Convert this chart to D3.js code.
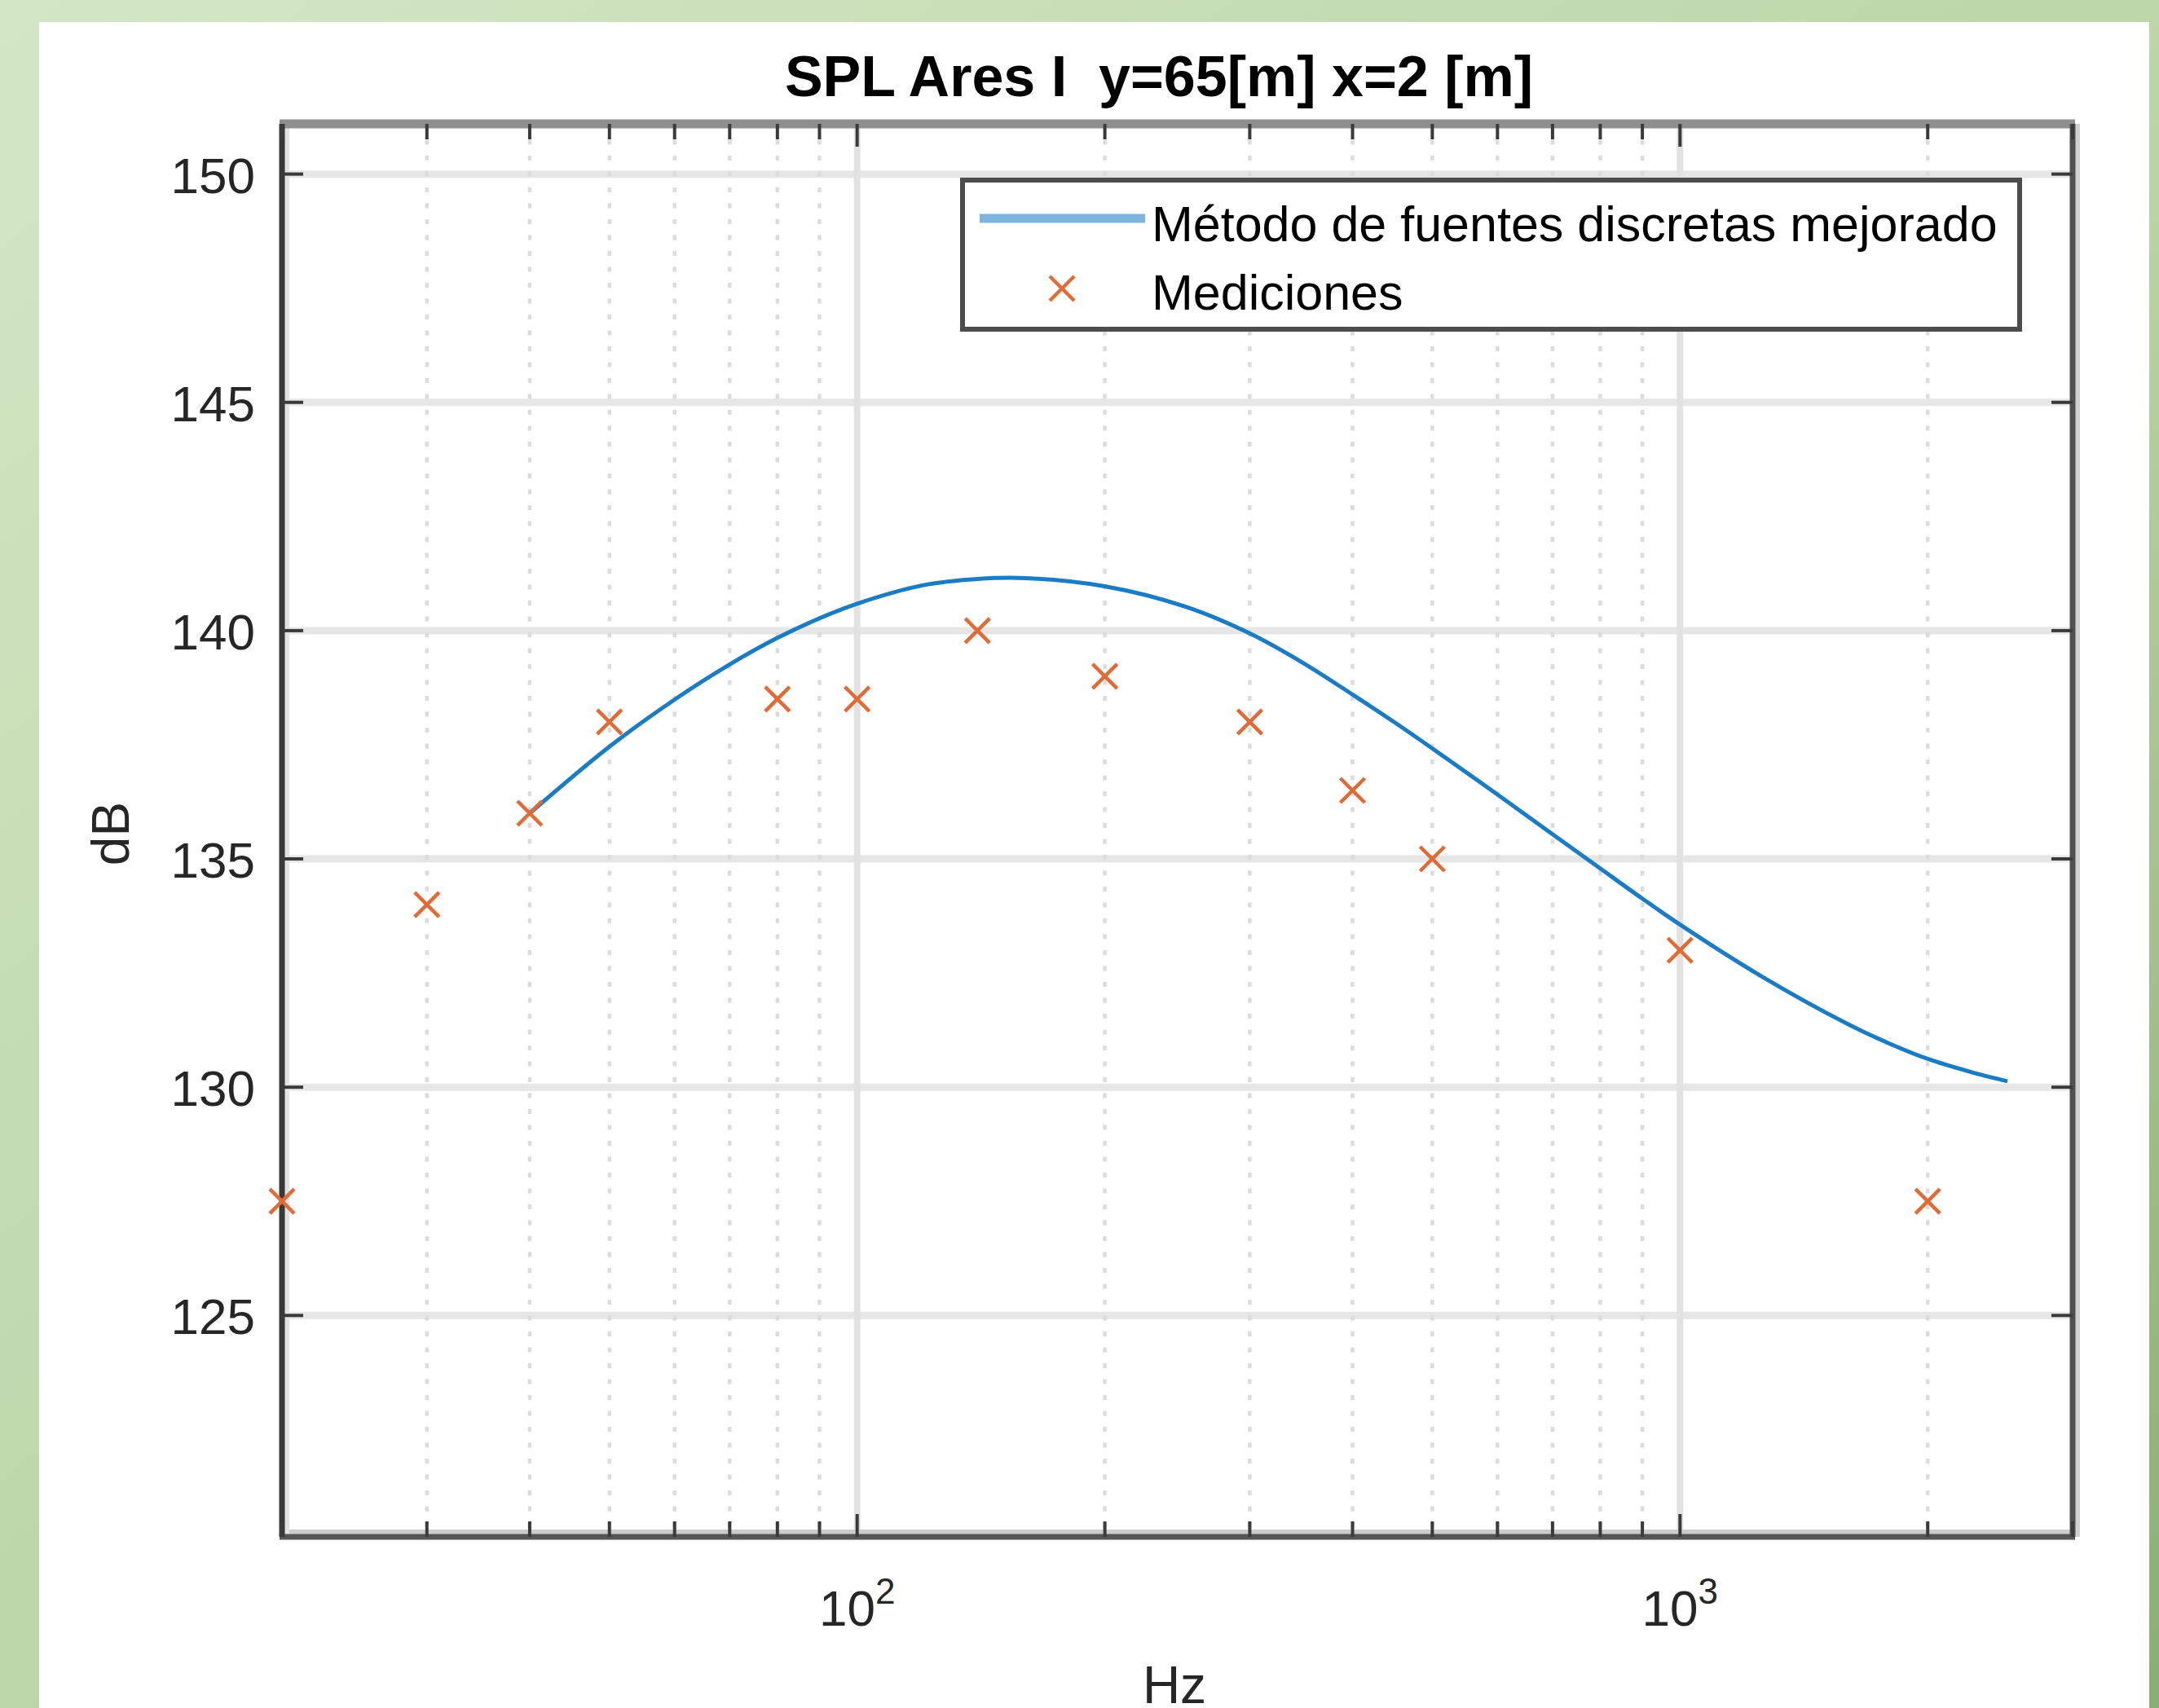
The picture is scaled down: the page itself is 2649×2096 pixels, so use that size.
<!DOCTYPE html>
<html>
<head>
<meta charset="utf-8">
<script src="https://cdn.jsdelivr.net/npm/d3@7"></script>
<style>
  html, body { margin: 0; padding: 0; background: #fff; }
  svg { display: block; }
  text { font-family: "Liberation Sans", Arial, Helvetica, sans-serif; white-space: pre; }
</style>
</head>
<body>
<script>
// ---- Data ----
const titleText = "SPL Ares I  y=65[m] x=2 [m]";
const xLabel = "Hz";
const yLabel = "dB";
const seriesNames = ["Método de fuentes discretas mejorado", "Mediciones"];

const freqModel = [40, 50, 60, 70, 80, 90, 100, 120, 140, 160, 200, 250, 300, 350, 400, 450, 500, 600, 700, 800, 900, 1000, 1250, 1600, 1800, 2000, 2250, 2500];
const splModel  = [136.0, 137.46, 138.49, 139.26, 139.84, 140.27, 140.59, 140.99, 141.13, 141.15, 140.97, 140.53, 139.94, 139.27, 138.6, 137.99, 137.42, 136.41, 135.54, 134.79, 134.13, 133.56, 132.45, 131.38, 130.95, 130.62, 130.34, 130.13];

const freqMeas = [20, 30, 40, 50, 80, 100, 140, 200, 300, 400, 500, 1000, 2000];
const splMeas  = [127.5, 134, 136, 138, 138.5, 138.5, 140, 139, 138, 136.5, 135, 133, 127.5];

const xDomain = [20, 3000];
const yDomain = [120.15, 151.1];
const xMajorTicks = [100, 1000];
const xMajorExp = ["2", "3"];
const xMinorTicks = [20, 30, 40, 50, 60, 70, 80, 90, 200, 300, 400, 500, 600, 700, 800, 900, 2000, 3000];
const xMinorGrid = [30, 40, 50, 60, 70, 80, 90, 200, 300, 400, 500, 600, 700, 800, 900, 2000];
const yTicks = [125, 130, 135, 140, 145, 150];

// ---- Layout ----
const W = 2649, H = 2096;
const plot = { left: 346, right: 2543, top: 152, bottom: 1886 };

const svg = d3.select("body").append("svg").attr("width", W).attr("height", H);

const defs = svg.append("defs");
const grad = defs.append("linearGradient").attr("id", "bg")
  .attr("x1", "0").attr("y1", "0").attr("x2", "1").attr("y2", "1");
grad.append("stop").attr("offset", "0").attr("stop-color", "#d3e7c6");
grad.append("stop").attr("offset", "0.55").attr("stop-color", "#b9d4a5");
grad.append("stop").attr("offset", "1").attr("stop-color", "#8aad76");

svg.append("rect").attr("width", W).attr("height", H).attr("fill", "url(#bg)");
svg.append("rect").attr("x", 48).attr("y", 27).attr("width", 2637 - 48).attr("height", H).attr("fill", "#ffffff");

const x = d3.scaleLog().domain(xDomain).range([plot.left, plot.right]);
const y = d3.scaleLinear().domain(yDomain).range([plot.bottom, plot.top]);

// ---- Grid ----
const grid = svg.append("g");
grid.selectAll(".ygrid").data(yTicks).join("line")
  .attr("x1", plot.left).attr("x2", plot.right)
  .attr("y1", d => y(d)).attr("y2", d => y(d))
  .attr("stroke", "#e6e6e6").attr("stroke-width", 9);
grid.selectAll(".xminor").data(xMinorGrid).join("line")
  .attr("x1", d => x(d)).attr("x2", d => x(d))
  .attr("y1", plot.top).attr("y2", plot.bottom)
  .attr("stroke", "#dcdcdc").attr("stroke-width", 4.5)
  .attr("stroke-dasharray", "6,13.5");
grid.selectAll(".xmajor").data(xMajorTicks).join("line")
  .attr("x1", d => x(d)).attr("x2", d => x(d))
  .attr("y1", plot.top).attr("y2", plot.bottom)
  .attr("stroke", "#e2e2e2").attr("stroke-width", 8);

// ---- Frame ----
const frame = svg.append("g");
frame.append("line").attr("x1", plot.left).attr("x2", plot.right + 6).attr("y1", plot.bottom - 6).attr("y2", plot.bottom - 6).attr("stroke", "#cccccc").attr("stroke-width", 6);
frame.append("line").attr("x1", plot.left + 6).attr("x2", plot.left + 6).attr("y1", plot.top).attr("y2", plot.bottom).attr("stroke", "#e2e2e2").attr("stroke-width", 6);
frame.append("line").attr("x1", plot.right + 6).attr("x2", plot.right + 6).attr("y1", plot.top).attr("y2", plot.bottom).attr("stroke", "#d0d0d0").attr("stroke-width", 6);
frame.append("line").attr("x1", plot.left - 3).attr("x2", plot.right + 3).attr("y1", plot.top).attr("y2", plot.top).attr("stroke", "#8e8e8e").attr("stroke-width", 11);
frame.append("line").attr("x1", plot.left - 3).attr("x2", plot.right + 3).attr("y1", plot.bottom).attr("y2", plot.bottom).attr("stroke", "#555555").attr("stroke-width", 7);
frame.append("line").attr("x1", plot.left).attr("x2", plot.left).attr("y1", plot.top).attr("y2", plot.bottom).attr("stroke", "#383838").attr("stroke-width", 7);
frame.append("line").attr("x1", plot.right).attr("x2", plot.right).attr("y1", plot.top).attr("y2", plot.bottom).attr("stroke", "#505050").attr("stroke-width", 7);

// ---- Ticks (inside, all four sides) ----
const ticks = svg.append("g").attr("stroke", "#3a3a3a").attr("stroke-width", 4);
yTicks.forEach(v => {
  ticks.append("line").attr("x1", plot.left).attr("x2", plot.left + 26).attr("y1", y(v)).attr("y2", y(v));
  ticks.append("line").attr("x1", plot.right).attr("x2", plot.right - 26).attr("y1", y(v)).attr("y2", y(v));
});
xMinorTicks.forEach(v => {
  ticks.append("line").attr("x1", x(v)).attr("x2", x(v)).attr("y1", plot.bottom).attr("y2", plot.bottom - 19);
  ticks.append("line").attr("x1", x(v)).attr("x2", x(v)).attr("y1", plot.top).attr("y2", plot.top + 19);
});
xMajorTicks.forEach(v => {
  ticks.append("line").attr("x1", x(v)).attr("x2", x(v)).attr("y1", plot.bottom).attr("y2", plot.bottom - 28);
  ticks.append("line").attr("x1", x(v)).attr("x2", x(v)).attr("y1", plot.top).attr("y2", plot.top + 28);
});

// ---- Tick labels ----
const labels = svg.append("g").attr("fill", "#262626");
labels.selectAll(".yl").data(yTicks).join("text")
  .attr("x", 313).attr("y", d => y(d) + 23)
  .attr("text-anchor", "end").attr("font-size", 62)
  .text(d => d3.format("d")(d));

xMajorTicks.forEach((v, i) => {
  const t = labels.append("text")
    .attr("x", x(v)).attr("y", 1995)
    .attr("text-anchor", "middle").attr("font-size", 62);
  t.append("tspan").text("10");
  t.append("tspan").attr("font-size", 44).attr("dy", -27).text(xMajorExp[i]);
});

// ---- Axis labels and title ----
svg.append("text").attr("x", 1441).attr("y", 2090)
  .attr("text-anchor", "middle").attr("font-size", 64).attr("fill", "#262626").text(xLabel);
svg.append("text").attr("transform", "translate(158,1023) rotate(-90)")
  .attr("text-anchor", "middle").attr("font-size", 64).attr("fill", "#262626").text(yLabel);
svg.append("text").attr("x", 1422).attr("y", 118)
  .attr("text-anchor", "middle").attr("font-size", 70).attr("font-weight", "bold")
  .attr("fill", "#000").text(titleText);

// ---- Data ----
const lineColor = "#1a7cc4";
const markColor = "#df6b36";

const modelData = freqModel.map((f, i) => ({ f, v: splModel[i] }));
const line = d3.line().x(d => x(d.f)).y(d => y(d.v)).curve(d3.curveCatmullRom.alpha(0.5));
svg.append("path").datum(modelData).attr("d", line)
  .attr("fill", "none").attr("stroke", lineColor).attr("stroke-width", 5);

const xMark = (g, cx, cy, r) => {
  g.append("line").attr("x1", cx - r).attr("y1", cy - r).attr("x2", cx + r).attr("y2", cy + r);
  g.append("line").attr("x1", cx - r).attr("y1", cy + r).attr("x2", cx + r).attr("y2", cy - r);
};
const marks = svg.append("g").attr("stroke", markColor).attr("stroke-width", 4.5);
freqMeas.forEach((f, i) => xMark(marks, x(f), y(splMeas[i]), 15));

// ---- Legend ----
const lg = svg.append("g");
lg.append("rect").attr("x", 1181).attr("y", 221).attr("width", 1297).attr("height", 183)
  .attr("fill", "#fff").attr("stroke", "#4d4d4d").attr("stroke-width", 6);
lg.append("line").attr("x1", 1202).attr("x2", 1405).attr("y1", 268).attr("y2", 268)
  .attr("stroke", "#7db4dd").attr("stroke-width", 11);
const lm = lg.append("g").attr("stroke", markColor).attr("stroke-width", 4.5);
xMark(lm, 1303, 354, 15);
lg.append("text").attr("x", 1413).attr("y", 296).attr("font-size", 61).attr("fill", "#000").text(seriesNames[0]);
lg.append("text").attr("x", 1413).attr("y", 380).attr("font-size", 61).attr("fill", "#000").text(seriesNames[1]);
</script>
</body>
</html>
